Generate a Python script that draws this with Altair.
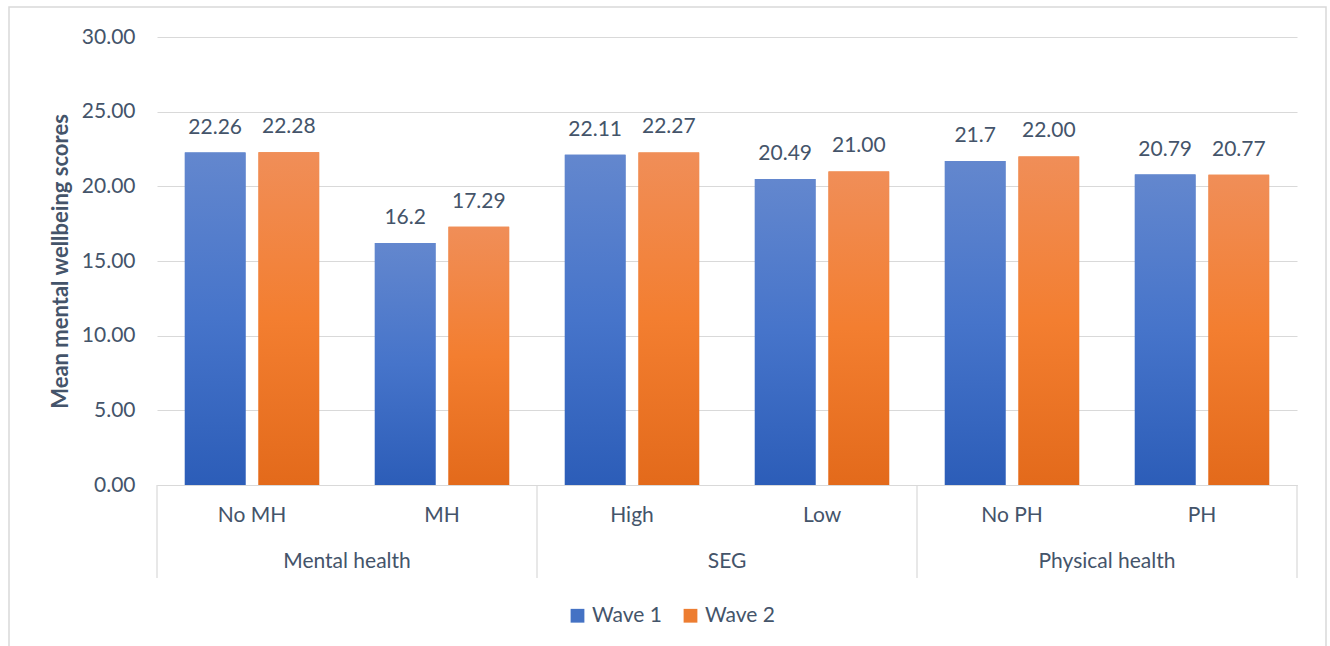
import altair as alt
import pandas as pd

# Mean mental wellbeing scores by subgroup, two survey waves
groups = ["Mental health", "Mental health", "SEG", "SEG", "Physical health", "Physical health"]
categories = ["No MH", "MH", "High", "Low", "No PH", "PH"]
wave1_labels = ["22.26", "16.2", "22.11", "20.49", "21.7", "20.79"]
wave2_labels = ["22.28", "17.29", "22.27", "21.00", "22.00", "20.77"]
waves = ["Wave 1", "Wave 2"]
y_ticks = [0, 5, 10, 15, 20, 25, 30]

rows = []
for g, c, a, b in zip(groups, categories, wave1_labels, wave2_labels):
    rows.append({"group": g, "category": c, "wave": "Wave 1", "label": a, "value": float(a)})
    rows.append({"group": g, "category": c, "wave": "Wave 2", "label": b, "value": float(b)})
bars = pd.DataFrame(rows)

# group captions sit at the boundary between the two members of each group
group_names = list(dict.fromkeys(groups))
group_df = pd.DataFrame({
    "group": group_names,
    "category": [categories[groups.index(g) + 1] for g in group_names],
})
# dividers at the start of each group, plus one closing the last group
start_df = pd.DataFrame({"category": [categories[groups.index(g)] for g in group_names]})
end_df = pd.DataFrame({"category": [categories[-1]]})
frame_df = pd.DataFrame({"k": [0]})

W, H = 1140, 448
TEXT = "#44546A"
GRID = "#D9D9D9"
FONT = "Lato"
FS = 21

x_scale = alt.Scale(domain=categories, paddingInner=0, paddingOuter=0)
x_axis = alt.Axis(title=None, labelAngle=0, ticks=False, domain=True, domainColor=GRID,
                  labelPadding=19, labelFontSize=FS, labelColor=TEXT, labelFont=FONT)
y_scale = alt.Scale(domain=[0, 30])
y_axis = alt.Axis(values=y_ticks, format=".2f", title="Mean mental wellbeing scores",
                  titleFont=FONT, titleFontSize=22, titleFontWeight="bold", titleColor=TEXT,
                  titleX=-97, titleY=H / 2, titleAngle=-90, titleAlign="center",
                  titleBaseline="middle",
                  labelFont=FONT, labelFontSize=FS, labelColor=TEXT, labelPadding=22,
                  ticks=False, domain=False, grid=True, gridColor=GRID, gridWidth=1.2)

x_enc = alt.X("category:N", scale=x_scale, axis=x_axis, sort=categories)
xo_enc = alt.XOffset("wave:N", sort=waves,
                     scale=alt.Scale(domain=waves, paddingInner=0.176, paddingOuter=0.378))
y_enc = alt.Y("value:Q", scale=y_scale, axis=y_axis)


def grad(top, mid, bottom):
    return alt.Gradient(
        gradient="linear", x1=0, x2=0, y1=0, y2=1,
        stops=[alt.GradientStop(color=top, offset=0),
               alt.GradientStop(color=mid, offset=0.5),
               alt.GradientStop(color=bottom, offset=1)],
    )


base = alt.Chart(bars)

solid = base.mark_bar().encode(
    x=x_enc, xOffset=xo_enc, y=y_enc,
    color=alt.Color("wave:N", sort=waves,
                    scale=alt.Scale(domain=waves, range=["#4472C4", "#ED7D31"]),
                    legend=alt.Legend(title=None, orient="none", direction="horizontal",
                                      legendX=410, legendY=568, symbolType="square",
                                      symbolSize=190, symbolStrokeWidth=0,
                                      labelFont=FONT, labelFontSize=FS, labelColor=TEXT,
                                      labelOffset=4, columnPadding=18)),
)

blue = base.transform_filter(alt.datum.wave == "Wave 1").mark_bar(
    color=grad("#6387CE", "#4674CA", "#2C5DB8")
).encode(x=x_enc, xOffset=xo_enc, y=y_enc)

orange = base.transform_filter(alt.datum.wave == "Wave 2").mark_bar(
    color=grad("#F08E58", "#F37E30", "#E36A1B")
).encode(x=x_enc, xOffset=xo_enc, y=y_enc)

labels = base.mark_text(font=FONT, fontSize=FS, color=TEXT, baseline="alphabetic", dy=-19).encode(
    x=x_enc, xOffset=xo_enc, y=y_enc, text="label:N"
)

start_rules = alt.Chart(start_df).mark_rule(color=GRID, strokeWidth=1.2).encode(
    x=alt.X("category:N", scale=x_scale, sort=categories, bandPosition=0),
    y=alt.value(H), y2=alt.value(H + 93),
)
end_rules = alt.Chart(end_df).mark_rule(color=GRID, strokeWidth=1.2).encode(
    x=alt.X("category:N", scale=x_scale, sort=categories, bandPosition=1),
    y=alt.value(H), y2=alt.value(H + 93),
)

group_text = alt.Chart(group_df).mark_text(font=FONT, fontSize=FS, color=TEXT, baseline="middle").encode(
    x=alt.X("category:N", scale=x_scale, sort=categories, bandPosition=0),
    y=alt.value(H + 77), text="group:N",
)

frame = alt.Chart(frame_df).mark_rect(fillOpacity=0, stroke=GRID, strokeWidth=1.5).encode(
    x=alt.value(-148), x2=alt.value(1169), y=alt.value(-30), y2=alt.value(700),
)

chart = alt.layer(frame, solid, blue, orange, labels, start_rules, end_rules, group_text).properties(
    width=W, height=H,
    padding={"left": 157, "top": 37, "right": 33, "bottom": 161},
    autosize=alt.AutoSizeParams(type="none"),
    background="white",
).configure_view(stroke=None)

chart.save("out.html", embed_options={"renderer": "svg", "actions": False})
